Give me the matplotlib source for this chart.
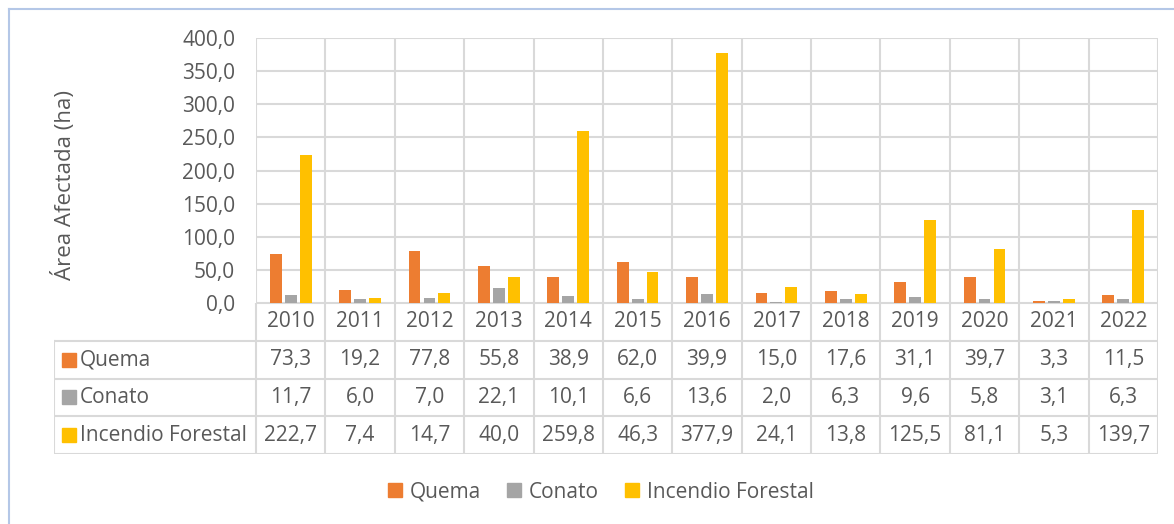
import matplotlib.pyplot as plt
from matplotlib.lines import Line2D
import numpy as np

plt.rcParams['font.family'] = ['Open Sans', 'DejaVu Sans']

years = ["2010", "2011", "2012", "2013", "2014", "2015", "2016",
         "2017", "2018", "2019", "2020", "2021", "2022"]
quema = [73.3, 19.2, 77.8, 55.8, 38.9, 62.0, 39.9, 15.0, 17.6, 31.1, 39.7, 3.3, 11.5]
conato = [11.7, 6.0, 7.0, 22.1, 10.1, 6.6, 13.6, 2.0, 6.3, 9.6, 5.8, 3.1, 6.3]
incendio = [222.7, 7.4, 14.7, 40.0, 259.8, 46.3, 377.9, 24.1, 13.8, 125.5, 81.1, 5.3, 139.7]

series = [("Quema", quema, "#ED7D31"),
          ("Conato", conato, "#A5A5A5"),
          ("Incendio Forestal", incendio, "#FFC000")]

W, H = 1174, 524
txt = "#595959"
grid = "#D9D9D9"
fs = 15

fig = plt.figure(figsize=(W / 100, H / 100), dpi=100)

def box(l, t, r, b):
    return [l / W, 1 - b / H, (r - l) / W, (b - t) / H]

# bar area
ax = fig.add_axes(box(256, 38, 1158, 303))
x = np.arange(len(years))
for k, (name, vals, col) in enumerate(series):
    ax.bar(x + (k - 1) * 0.215, vals, width=0.17, color=col, zorder=3)
ax.set_xlim(-0.5, len(years) - 0.5)
ax.set_ylim(0, 400)
ax.set_yticks(np.arange(0, 401, 50))
ax.set_yticklabels([f"{v:.1f}".replace(".", ",") for v in np.arange(0, 401, 50)])
ax.set_xticks([])
ax.tick_params(axis="y", length=0, labelsize=fs, labelcolor=txt, pad=15)
ax.grid(axis="y", color=grid, lw=1.5, zorder=0)
for i in range(len(years) + 1):
    ax.axvline(i - 0.5, color=grid, lw=1.5, zorder=1)
for s in ax.spines.values():
    s.set_visible(False)
ax.set_ylabel("Área Afectada (ha)", fontsize=16, color=txt)
ax.yaxis.set_label_coords(-0.2, 0.445)

# data table under the bars
hw = (256 - 54) / ((1158 - 256) / len(years))
tax = fig.add_axes(box(54, 303, 1158, 454))
left = -0.5 - hw
tax.set_xlim(left, len(years) - 0.5)
tax.set_ylim(4, 0)
tax.axis("off")
for i in range(len(years) + 1):
    tax.plot([i - 0.5, i - 0.5], [0, 4], color=grid, lw=1.5)
tax.plot([left, left], [1, 4], color=grid, lw=1.5)
tax.plot([-0.5, len(years) - 0.5], [0, 0], color=grid, lw=1.5)
for r in range(1, 5):
    tax.plot([left, len(years) - 0.5], [r, r], color=grid, lw=1.5)
for i, yr in enumerate(years):
    tax.text(i, 0.5, yr, ha="center", va="center", fontsize=fs, color=txt)
for k, (name, vals, col) in enumerate(series):
    row = k + 1.5
    tax.plot(left + 0.22, row, marker="s", ms=9.5, color=col, clip_on=False)
    tax.text(left + 0.37, row, name, ha="left", va="center", fontsize=fs, color=txt)
    for i, v in enumerate(vals):
        tax.text(i, row, f"{v:.1f}".replace(".", ","), ha="center", va="center",
                 fontsize=fs, color=txt)

handles = [Line2D([], [], marker="s", ls="", ms=9.5, color=c) for _, _, c in series]
fig.legend(handles, [n for n, _, _ in series], loc="center", ncol=3,
           bbox_to_anchor=(600 / W, 1 - 492 / H), frameon=False, fontsize=fs,
           labelcolor=txt, handlelength=0.8, handletextpad=0.3, columnspacing=1.2)

# outer chart border
fig.add_artist(Line2D([9 / W, 9 / W], [0, 1 - 9 / H], color="#B4C7E7", lw=1.5))
fig.add_artist(Line2D([9 / W, 1], [1 - 9 / H, 1 - 9 / H], color="#B4C7E7", lw=1.5))

fig.savefig("out.png", dpi=100)
